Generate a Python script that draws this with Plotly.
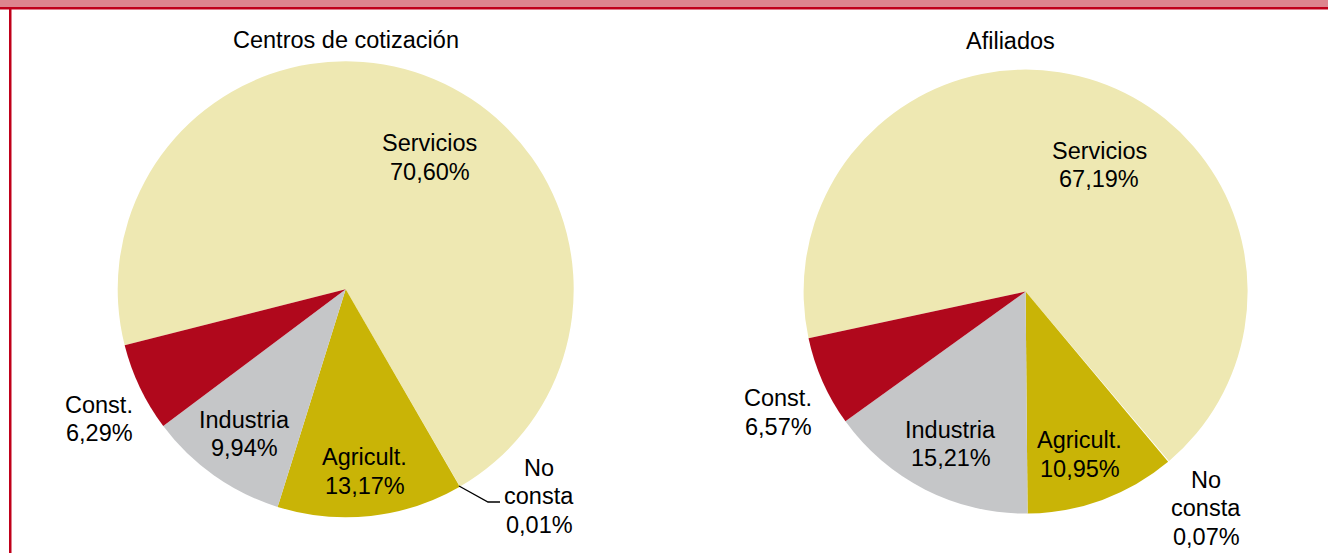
import plotly.graph_objects as go

W, H = 1328, 553

# ---- data ----
categories = ["Servicios", "No consta", "Agricult.", "Industria", "Const."]
centros_values = [70.60, 0.01, 13.17, 9.94, 6.29]
afiliados_values = [67.19, 0.07, 10.95, 15.21, 6.57]
titles = ["Centros de cotización", "Afiliados"]
colors = ["#EEE8B2", "#FFFFFF", "#C9B406", "#C5C6C8", "#B0081C"]

FONT = "Arial, Liberation Sans, sans-serif"
FS = 23.5
LINE = 28.5


def px(x):
    return x / W


def py(y):
    return 1 - y / H


def fmt(v):
    return f"{v:.2f}".replace(".", ",") + "%"


fig = go.Figure()

# pie domains (pixel boxes) and rotation
pies = [
    dict(values=centros_values, box=(117.7, 61.3, 573.7, 517.3), rotation=-104.2),
    dict(values=afiliados_values, box=(803.6, 69.6, 1247.6, 513.6), rotation=-102.1),
]
for p in pies:
    x0, y0, x1, y1 = p["box"]
    fig.add_trace(go.Pie(
        labels=categories,
        values=p["values"],
        sort=False,
        direction="clockwise",
        rotation=p["rotation"],
        marker=dict(colors=colors, line=dict(width=0)),
        textinfo="none",
        hoverinfo="label+percent",
        showlegend=False,
        domain=dict(x=[px(x0), px(x1)], y=[py(y1), py(y0)]),
    ))

# label block centres in pixels (layout only)
label_pos = [
    [(429.5, 157.5), (539, 496), (364.5, 471.5), (244.5, 434), (99, 419)],
    [(1099, 165), (1206, 508), (1079.5, 454.5), (950.5, 444), (778, 412.5)],
]
title_pos = [(346, 40), (1010, 41)]

annotations = []
for k, vals in enumerate([centros_values, afiliados_values]):
    tx, ty = title_pos[k]
    annotations.append(dict(x=px(tx), y=py(ty), xref="paper", yref="paper",
                            text=titles[k], showarrow=False,
                            xanchor="center", yanchor="middle",
                            font=dict(family=FONT, size=FS, color="#000000")))
    for i, cat in enumerate(categories):
        lines = cat.split(" ") + [fmt(vals[i])]
        cx, cy = label_pos[k][i]
        n = len(lines)
        for j, t in enumerate(lines):
            yy = cy + (j - (n - 1) / 2) * LINE
            annotations.append(dict(x=px(cx), y=py(yy), xref="paper", yref="paper",
                                    text=t, showarrow=False,
                                    xanchor="center", yanchor="middle",
                                    font=dict(family=FONT, size=FS, color="#000000")))

shapes = [
    # top band
    dict(type="rect", xref="paper", yref="paper", x0=0, x1=1, y0=py(7), y1=1,
         fillcolor="#DD858E", line=dict(width=0), layer="above"),
    dict(type="rect", xref="paper", yref="paper", x0=0, x1=1, y0=py(9.5), y1=py(7),
         fillcolor="#C0001A", line=dict(width=0), layer="above"),
    # left border
    dict(type="rect", xref="paper", yref="paper", x0=px(9), x1=px(11.5), y0=0, y1=py(7),
         fillcolor="#C0001A", line=dict(width=0), layer="above"),
    # leader line for "No consta" in first pie
    dict(type="path", xref="paper", yref="paper",
         path=f"M {px(459)},{py(486)} L {px(488)},{py(502)} L {px(500)},{py(502)}",
         line=dict(color="#000000", width=1.3)),
]

fig.update_layout(
    width=W, height=H,
    margin=dict(l=0, r=0, t=0, b=0),
    paper_bgcolor="#FFFFFF",
    plot_bgcolor="#FFFFFF",
    annotations=annotations,
    shapes=shapes,
    font=dict(family=FONT),
)

fig.write_html(
    "out.html",
    config={"displayModeBar": False},
    post_script="document.body.style.margin='0px';document.body.style.overflow='hidden';",
)
